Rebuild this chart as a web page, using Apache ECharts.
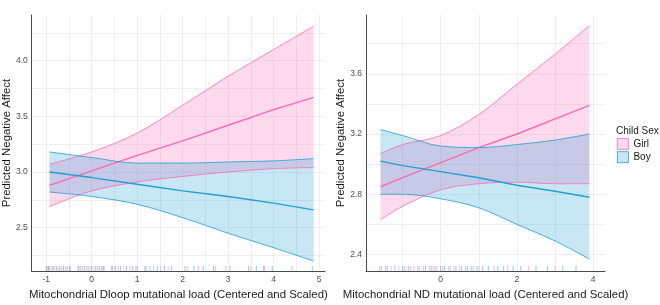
<!DOCTYPE html>
<html>
<head>
<meta charset="utf-8">
<script src="https://cdn.jsdelivr.net/npm/echarts@6/dist/echarts.min.js"></script>
<style>
  html, body { margin: 0; padding: 0; background: #fff; }
  #chart { width: 660px; height: 305px; }
</style>
</head>
<body>
<div id="chart"></div>
<script>
// left panel: Dloop
const dloopX = [-0.93, 0, 1, 2, 3, 4, 4.88];
const dloopGirlFit = [2.88, 3.01, 3.15, 3.28, 3.42, 3.56, 3.67];
const dloopGirlUpper = [3.07, 3.18, 3.35, 3.60, 3.86, 4.10, 4.31];
const dloopGirlLower = [2.69, 2.83, 2.91, 2.96, 3.00, 3.03, 3.04];
const dloopBoyFit = [3.00, 2.95, 2.89, 2.83, 2.78, 2.72, 2.66];
const dloopBoyUpper = [3.18, 3.13, 3.08, 3.08, 3.09, 3.10, 3.12];
const dloopBoyLower = [2.82, 2.78, 2.71, 2.59, 2.45, 2.32, 2.20];
const dloopGirlRug = [-0.98, -0.93, -0.88, -0.81, -0.74, -0.66, -0.58, -0.49, -0.28, -0.2, -0.12, -0.04, 0.05, 0.13, 0.22, 0.27,
  0.46, 0.58, 0.71, 0.84, 0.97, 1.2, 1.36, 1.52, 1.68, 2.1, 2.35, 2.72, 2.95, 3.5, 3.8, 4.4];
const dloopBoyRug = [-1.0, -0.95, -0.85, -0.77, -0.7, -0.62, -0.54, -0.47, -0.3, -0.24, -0.16, -0.08, 0.0, 0.09, 0.17, 0.25,
  0.44, 0.52, 0.63, 0.77, 0.9, 1.0, 1.17, 1.28, 1.44, 1.6, 1.75, 2.05, 2.25, 2.45, 2.68, 3.04, 3.45, 3.62, 3.78, 3.97, 4.85];
const dloopXTicks = [-1, 0, 1, 2, 3, 4, 5];
const dloopXMinor = [-0.5, 0.5, 1.5, 2.5, 3.5, 4.5];
const dloopYTicks = [2.5, 3.0, 3.5, 4.0];
const dloopYMinor = [2.25, 2.75, 3.25, 3.75, 4.25];

// right panel: ND
const ndX = [-1.58, -1, 0, 1, 2, 3, 3.9];
const ndGirlFit = [2.85, 2.91, 3.01, 3.11, 3.20, 3.30, 3.39];
const ndGirlUpper = [3.07, 3.13, 3.19, 3.33, 3.53, 3.73, 3.92];
const ndGirlLower = [2.63, 2.72, 2.83, 2.87, 2.88, 2.87, 2.87];
const ndBoyFit = [3.02, 2.99, 2.95, 2.91, 2.86, 2.82, 2.78];
const ndBoyUpper = [3.23, 3.19, 3.12, 3.11, 3.13, 3.16, 3.20];
const ndBoyLower = [2.80, 2.80, 2.77, 2.71, 2.60, 2.49, 2.37];
const ndGirlRug = [-1.6, -1.45, -1.3, -1.1, -0.95, -0.8, -0.7, -0.55, -0.45, -0.3, -0.2, -0.1, 0.05, 0.2, 0.35, 0.5,
  0.65, 0.85, 1.0, 1.4, 1.75, 2.3, 3.0];
const ndBoyRug = [-1.55, -1.4, -1.2, -1.0, -0.85, -0.6, -0.4, -0.25, -0.15, 0.0, 0.1, 0.25, 0.4, 0.55, 0.7, 0.8, 0.95,
  1.1, 1.25, 1.5, 1.65, 1.9, 2.1, 2.5, 2.8, 3.2, 3.55];
const ndXTicks = [0, 2, 4];
const ndXMinor = [-1, 1, 3];
const ndYTicks = [2.4, 2.8, 3.2, 3.6];
const ndYMinor = [2.6, 3.0, 3.4, 3.8];

const GIRL = '#ff69b4';
const BOY = '#1ea0d2';
const GIRL_FILL = 'rgba(255,105,180,0.25)';
const BOY_FILL = 'rgba(30,160,210,0.25)';
const FONT = 'Liberation Sans, Arial, sans-serif';

// value first, x second, so that stacking works on the y value
const pairs = (xs, ys) => xs.map((x, i) => [ys[i], x]);
const diff = (xs, up, lo) => xs.map((x, i) => [+(up[i] - lo[i]).toFixed(3), x]);

function bandSeries (idx, name, color, fill, xs, fit, upper, lower) {
  const stack = name + idx;
  const base = { type: 'line', xAxisIndex: idx, yAxisIndex: idx, symbol: 'none', smooth: 0.35,
    silent: true, encode: { x: 1, y: 0 } };
  return [
    Object.assign({}, base, { name: name + ' lower', stack: stack, data: pairs(xs, lower),
      lineStyle: { color: color, width: 0.8 } }),
    Object.assign({}, base, { name: name + ' band', stack: stack, data: diff(xs, upper, lower),
      lineStyle: { color: color, width: 0.8 }, areaStyle: { color: fill, opacity: 1 } }),
    Object.assign({}, base, { name: name, data: pairs(xs, fit), smooth: false,
      lineStyle: { color: color, width: 1.4 }, itemStyle: { color: color } })
  ];
}

function rugSeries (idx, color, xs, yMin) {
  return {
    type: 'scatter', xAxisIndex: idx, yAxisIndex: idx, silent: true,
    symbol: 'rect', symbolSize: [1, 5], symbolOffset: [0, -2.5],
    itemStyle: { color: color, opacity: 0.5 },
    data: xs.map(x => [x, yMin])
  };
}

function xAxis (idx, min, max, ticks, minor, title) {
  return {
    type: 'value', gridIndex: idx, min: min, max: max,
    name: title, nameLocation: 'middle', nameGap: 16,
    nameTextStyle: { fontFamily: FONT, fontSize: 11.4, color: '#1a1a1a' },
    axisLine: { show: true, onZero: false, lineStyle: { color: '#4a4a4a', width: 1 } },
    axisTick: { show: false, customValues: ticks.concat(minor) },
    axisLabel: { customValues: ticks, margin: 4, fontFamily: FONT, fontSize: 8.5, color: '#4d4d4d' },
    splitLine: { show: true, lineStyle: { color: '#ebebeb', width: 0.8 } }
  };
}

function yAxis (idx, min, max, ticks, minor) {
  return {
    type: 'value', gridIndex: idx, min: min, max: max,
    name: 'Predicted Negative Affect', nameLocation: 'middle', nameGap: 19,
    nameTextStyle: { fontFamily: FONT, fontSize: 11.4, color: '#1a1a1a' },
    axisLine: { show: true, onZero: false, lineStyle: { color: '#4a4a4a', width: 1 } },
    axisTick: { show: false, customValues: ticks.concat(minor) },
    axisLabel: { customValues: ticks, margin: 4, fontFamily: FONT, fontSize: 8.5, color: '#4d4d4d',
      formatter: v => v.toFixed(1) },
    splitLine: { show: true, lineStyle: { color: '#ebebeb', width: 0.8 } }
  };
}

const dloopYMin = 2.11, ndYMin = 2.29;

const option = {
  animation: false,
  backgroundColor: '#fff',
  textStyle: { fontFamily: FONT },
  grid: [
    { left: 31, top: 15, width: 294, height: 261 },
    { left: 366, top: 15, width: 239, height: 261 }
  ],
  xAxis: [
    xAxis(0, -1.32, 5.13, dloopXTicks, dloopXMinor, 'Mitochondrial Dloop mutational load (Centered and Scaled)'),
    xAxis(1, -1.96, 4.31, ndXTicks, ndXMinor, 'Mitochondrial ND mutational load (Centered and Scaled)')
  ],
  yAxis: [
    yAxis(0, dloopYMin, 4.41, dloopYTicks, dloopYMinor),
    yAxis(1, ndYMin, 3.99, ndYTicks, ndYMinor)
  ],
  title: {
    text: 'Child Sex', left: 616, top: 126, padding: 0,
    textStyle: { fontFamily: FONT, fontSize: 10, fontWeight: 'normal', color: '#1a1a1a' }
  },
  legend: {
    orient: 'vertical', left: 617, top: 138, padding: 0, itemWidth: 11, itemHeight: 11, itemGap: 1.5,
    textStyle: { fontFamily: FONT, fontSize: 10, color: '#1a1a1a' },
    selectedMode: false,
    data: [
      { name: 'Girl', icon: 'rect', itemStyle: { color: GIRL_FILL, borderColor: GIRL, borderWidth: 0.8 },
        lineStyle: { color: GIRL, width: 1.2 } },
      { name: 'Boy', icon: 'rect', itemStyle: { color: BOY_FILL, borderColor: BOY, borderWidth: 0.8 },
        lineStyle: { color: BOY, width: 1.2 } }
    ]
  },
  series: [].concat(
    bandSeries(0, 'Girl', GIRL, GIRL_FILL, dloopX, dloopGirlFit, dloopGirlUpper, dloopGirlLower),
    bandSeries(0, 'Boy', BOY, BOY_FILL, dloopX, dloopBoyFit, dloopBoyUpper, dloopBoyLower),
    bandSeries(1, 'Girl', GIRL, GIRL_FILL, ndX, ndGirlFit, ndGirlUpper, ndGirlLower),
    bandSeries(1, 'Boy', BOY, BOY_FILL, ndX, ndBoyFit, ndBoyUpper, ndBoyLower),
    [
      rugSeries(0, GIRL, dloopGirlRug, dloopYMin),
      rugSeries(0, BOY, dloopBoyRug, dloopYMin),
      rugSeries(1, GIRL, ndGirlRug, ndYMin),
      rugSeries(1, BOY, ndBoyRug, ndYMin)
    ]
  )
};

const myChart = echarts.init(document.getElementById('chart'), null, { renderer: 'canvas' });
myChart.setOption(option);
</script>
</body>
</html>
